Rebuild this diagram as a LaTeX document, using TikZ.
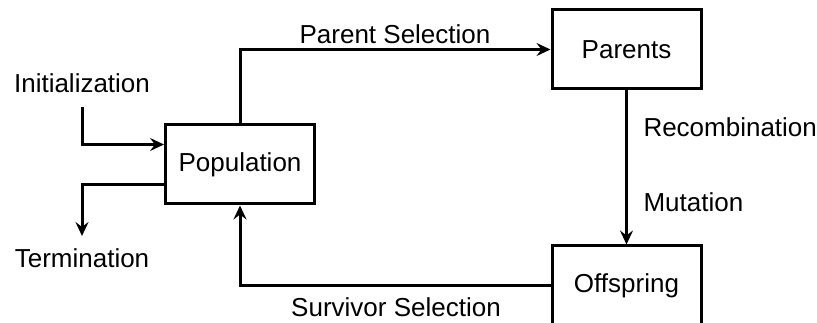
\documentclass[tikz,border=0pt]{standalone}
\usepackage{fontspec}
\setmainfont{Liberation Sans}
\usetikzlibrary{arrows.meta}
\begin{document}
\begin{tikzpicture}[x=1pt, y=-1pt, line width=3pt, line join=miter, >={Stealth[length=14pt,width=13pt,inset=5pt]},
	font=\fontsize{26}{31}\selectfont,
	box/.style={draw, rectangle, minimum width=149pt, minimum height=79pt, inner sep=0pt},
	lbl/.style={inner sep=0pt}]
			\useasboundingbox (0,0) rectangle (817,323);
			\clip (0,0) rectangle (817,323);
			\node[box] (pop) at (240,164.5) {Population};
			\node[box] (par) at (626.5,49.5) {Parents};
			\node[box] (off) at (626.5,285.5) {Offspring};
			\node[lbl] (init) at (82,83) {Initialization};
			\node[lbl] (term) at (82,258) {Termination};
			\coordinate (I) at (82,107);
			\coordinate (T) at (82,236);
			\draw[->] (I) |- ([yshift=20pt]pop.west);
			\draw[->] ([yshift=-20pt]pop.west) -| (T);
			\draw[->] (pop.north) |- (par.west);
			\draw[->] (par.south) -- (off.north);
			\draw[->] (off.west) -| (pop.south);
			\node[lbl] (psel) at (395,34) {Parent Selection};
			\node[lbl] (ssel) at (396,307.5) {Survivor Selection};
			\node[lbl, anchor=west] (rec) at (642,127) {Recombination};
			\node[lbl, anchor=west] (mut) at (642,202) {Mutation};
\end{tikzpicture}
\end{document}
